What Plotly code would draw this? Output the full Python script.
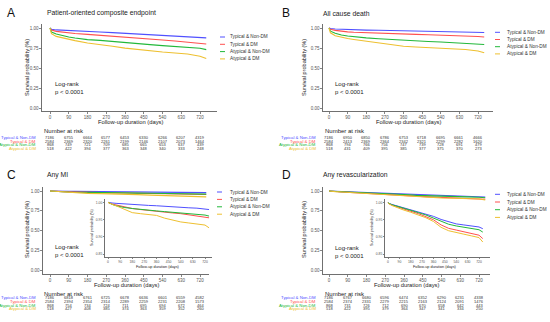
import plotly.graph_objects as go

W, H = 550, 322

groups = ["Typical & Non-DM", "Typical & DM", "Atypical & Non-DM", "Atypical & DM"]
colors = ["#5050FF", "#FF5050", "#22B83A", "#EEC030"]

days = [0, 7, 30, 60, 90, 120, 180, 240, 300, 360, 420, 480, 540, 600, 660, 720, 750]

# Panel A: Patient-oriented composite endpoint
A_typ_nondm = [1, 0.985, 0.976, 0.971, 0.967, 0.963, 0.957, 0.950, 0.942, 0.934, 0.926, 0.918, 0.910, 0.902, 0.894, 0.884, 0.876]
A_typ_dm = [1, 0.975, 0.958, 0.947, 0.938, 0.932, 0.920, 0.907, 0.893, 0.880, 0.870, 0.860, 0.850, 0.838, 0.826, 0.812, 0.800]
A_atyp_nondm = [1, 0.950, 0.925, 0.905, 0.888, 0.875, 0.855, 0.845, 0.830, 0.815, 0.803, 0.792, 0.780, 0.770, 0.760, 0.747, 0.730]
A_atyp_dm = [1, 0.930, 0.895, 0.875, 0.856, 0.842, 0.812, 0.795, 0.772, 0.748, 0.730, 0.715, 0.700, 0.688, 0.675, 0.648, 0.620]

# Panel B: All cause death
B_typ_nondm = [1, 0.993, 0.987, 0.983, 0.980, 0.978, 0.974, 0.971, 0.967, 0.964, 0.961, 0.958, 0.955, 0.952, 0.949, 0.946, 0.944]
B_typ_dm = [1, 0.985, 0.970, 0.958, 0.952, 0.947, 0.940, 0.934, 0.929, 0.925, 0.920, 0.916, 0.912, 0.906, 0.900, 0.894, 0.888]
B_atyp_nondm = [1, 0.960, 0.934, 0.912, 0.900, 0.890, 0.877, 0.866, 0.855, 0.846, 0.838, 0.831, 0.825, 0.817, 0.809, 0.800, 0.794]
B_atyp_dm = [1, 0.940, 0.904, 0.882, 0.868, 0.856, 0.833, 0.815, 0.793, 0.772, 0.762, 0.754, 0.746, 0.740, 0.732, 0.712, 0.690]

# Panel C: Any MI
C_typ_nondm = [1, 0.999, 0.998, 0.997, 0.996, 0.995, 0.993, 0.992, 0.991, 0.990, 0.988, 0.987, 0.986, 0.984, 0.983, 0.981, 0.979]
C_typ_dm = [1, 0.998, 0.995, 0.992, 0.989, 0.986, 0.982, 0.979, 0.976, 0.974, 0.971, 0.969, 0.967, 0.964, 0.961, 0.958, 0.955]
C_atyp_nondm = [1, 0.998, 0.994, 0.990, 0.987, 0.985, 0.982, 0.979, 0.977, 0.975, 0.973, 0.971, 0.970, 0.968, 0.966, 0.963, 0.960]
C_atyp_dm = [1, 0.998, 0.994, 0.990, 0.985, 0.978, 0.970, 0.967, 0.965, 0.962, 0.954, 0.948, 0.943, 0.940, 0.937, 0.934, 0.926]

# Panel D: Any revascularization
D_typ_nondm = [1, 0.998, 0.995, 0.992, 0.989, 0.986, 0.980, 0.974, 0.968, 0.960, 0.951, 0.944, 0.938, 0.935, 0.932, 0.929, 0.924]
D_typ_dm = [1, 0.997, 0.993, 0.989, 0.985, 0.982, 0.975, 0.968, 0.960, 0.950, 0.935, 0.925, 0.920, 0.915, 0.910, 0.905, 0.895]
D_atyp_nondm = [1, 0.998, 0.994, 0.991, 0.988, 0.985, 0.978, 0.971, 0.964, 0.955, 0.944, 0.937, 0.932, 0.928, 0.925, 0.921, 0.914]
D_atyp_dm = [1, 0.997, 0.992, 0.987, 0.982, 0.979, 0.972, 0.965, 0.956, 0.945, 0.928, 0.918, 0.912, 0.908, 0.903, 0.898, 0.885]

risk_days = [0, 90, 180, 270, 360, 450, 540, 630, 720]
A_risk = [
    [7186, 6755, 6664, 6577, 6453, 6330, 6266, 6207, 4319],
    [2584, 2369, 2320, 2261, 2199, 2146, 2107, 2073, 1464],
    [868, 749, 721, 709, 685, 665, 653, 637, 439],
    [518, 422, 394, 377, 363, 348, 340, 333, 248],
]
B_risk = [
    [7186, 6950, 6850, 6786, 6753, 6718, 6695, 6661, 4666],
    [2584, 2413, 2369, 2364, 2342, 2321, 2299, 2282, 1620],
    [868, 794, 766, 756, 747, 739, 728, 691, 479],
    [518, 431, 409, 395, 385, 377, 375, 370, 273],
]
C_risk = [
    [7186, 6818, 6761, 6725, 6678, 6636, 6601, 6559, 4582],
    [2584, 2394, 2354, 2314, 2289, 2259, 2231, 2208, 1573],
    [868, 754, 734, 724, 711, 695, 694, 672, 464],
    [518, 427, 408, 385, 374, 363, 359, 352, 260],
]
D_risk = [
    [7186, 6767, 6680, 6596, 6474, 6352, 6290, 6231, 4338],
    [2584, 2374, 2331, 2279, 2215, 2163, 2124, 2091, 1476],
    [868, 731, 726, 712, 690, 670, 658, 642, 443],
    [518, 422, 395, 379, 364, 347, 341, 334, 250],
]

titles = ["Patient-oriented composite endpoint", "All cause death", "Any MI", "Any revascularization"]
letters = ["A", "B", "C", "D"]
main_y_ticks = [0, 0.25, 0.5, 0.75, 1.0]
inset_y_ticks = [0.85, 0.90, 0.95, 1.00]
x_ticks = [0, 90, 180, 270, 360, 450, 540, 630, 720]

FONT = "Arial, Liberation Sans, sans-serif"
AX = "#333333"
TICK = "#555555"


def xcfg(p0, p1, lo, hi, v0=0, v1=720):
    s = (v1 - v0) / (p1 - p0)
    return dict(domain=[lo / W, hi / W], range=[v0 + (lo - p0) * s, v0 + (hi - p0) * s])


def ycfg(ptop, pbot, vtop, vbot, top, bottom):
    s = (vtop - vbot) / (pbot - ptop)
    return dict(domain=[1 - bottom / H, 1 - top / H],
                range=[vbot - (bottom - pbot) * s, vtop + (ptop - top) * s])


common_x = dict(showline=True, linecolor=AX, linewidth=0.7, ticks="outside", ticklen=2,
                tickwidth=0.6, tickcolor=AX, showgrid=False, zeroline=False,
                tickfont=dict(size=4.5, color=TICK, family=FONT), tickvals=x_ticks,
                ticktext=[str(v) for v in x_ticks])
common_y = dict(showline=True, linecolor=AX, linewidth=0.7, ticks="outside", ticklen=2,
                tickwidth=0.6, tickcolor=AX, showgrid=False, zeroline=False,
                tickfont=dict(size=4.5, color=TICK, family=FONT))

# panel geometry (pixels)
panels = [
    dict(x=xcfg(50, 200, 42, 217), y=ycfg(28, 108, 1.0, 0.0, 24, 111)),
    dict(x=xcfg(329, 478, 323, 493), y=ycfg(28, 108, 1.0, 0.0, 24, 111)),
    dict(x=xcfg(50, 200, 43, 209), y=ycfg(191, 270, 1.0, 0.0, 187, 274)),
    dict(x=xcfg(329, 479, 323, 490), y=ycfg(191, 270, 1.0, 0.0, 187, 274)),
]
insets = [
    dict(x=xcfg(108, 205, 105, 212), y=ycfg(202.3, 254, 1.0, 0.85, 199, 257)),
    dict(x=xcfg(388, 479, 385, 490), y=ycfg(202.7, 254, 1.0, 0.85, 199, 257)),
]

series = [
    [A_typ_nondm, A_typ_dm, A_atyp_nondm, A_atyp_dm],
    [B_typ_nondm, B_typ_dm, B_atyp_nondm, B_atyp_dm],
    [C_typ_nondm, C_typ_dm, C_atyp_nondm, C_atyp_dm],
    [D_typ_nondm, D_typ_dm, D_atyp_nondm, D_atyp_dm],
]
risks = [A_risk, B_risk, C_risk, D_risk]

fig = go.Figure()
layout = dict(width=W, height=H, autosize=False, margin=dict(l=0, r=0, t=0, b=0),
              paper_bgcolor="white", plot_bgcolor="rgba(0,0,0,0)", showlegend=False,
              font=dict(family=FONT))

for i in range(4):
    sx = "" if i == 0 else str(i + 1)
    xa = dict(common_x, **panels[i]["x"])
    ya = dict(common_y, **panels[i]["y"], tickvals=main_y_ticks,
              ticktext=["%.2f" % v for v in main_y_ticks])
    xa["anchor"] = "y" + sx
    ya["anchor"] = "x" + sx
    layout["xaxis" + sx] = xa
    layout["yaxis" + sx] = ya
    for g in range(4):
        fig.add_trace(go.Scatter(x=days, y=series[i][g], mode="lines",
                                 line=dict(color=colors[g], width=1.1),
                                 xaxis="x" + sx, yaxis="y" + sx, hoverinfo="skip"))

# insets for C and D
for k, pi in enumerate([2, 3]):
    n = str(5 + k)
    xa = dict(common_x, **insets[k]["x"])
    xa["tickfont"] = dict(size=3.4, color=TICK, family=FONT)
    xa["ticklen"] = 1.2
    ya = dict(common_y, **insets[k]["y"], tickvals=inset_y_ticks,
              ticktext=["%.2f" % v for v in inset_y_ticks])
    ya["tickfont"] = dict(size=3.4, color=TICK, family=FONT)
    ya["ticklen"] = 1.2
    xa["anchor"] = "y" + n
    ya["anchor"] = "x" + n
    layout["xaxis" + n] = xa
    layout["yaxis" + n] = ya
    for g in range(4):
        fig.add_trace(go.Scatter(x=days, y=series[pi][g], mode="lines",
                                 line=dict(color=colors[g], width=1.0),
                                 xaxis="x" + n, yaxis="y" + n, hoverinfo="skip"))

annotations = []
shapes = []


def ann(x, y, text, size, color="#222222", xanchor="left", yanchor="middle", angle=0):
    annotations.append(dict(x=x / W, y=1 - y / H, xref="paper", yref="paper", text=text,
                            showarrow=False, xanchor=xanchor, yanchor=yanchor, textangle=angle,
                            font=dict(size=size, color=color, family=FONT)))


# text geometry per panel
geo = [
    dict(letter=(5, 13), title=(45, 13), ytitle=(27, 68), xtitle=(130, 122),
         logrank=(53, 84), nar=(42, 131), rows=[137.5, 141.2, 144.9, 148.6], label_r=38,
         leg_x=(220, 225, 228), leg_y=[37, 44.3, 51.6, 58.9]),
    dict(letter=(280, 13), title=(321, 13), ytitle=(304, 68), xtitle=(408, 122),
         logrank=(333, 84), nar=(323, 131), rows=[137.5, 141.2, 144.9, 148.6], label_r=318,
         leg_x=(495, 500, 505), leg_y=[32.3, 39.5, 46.7, 53.9]),
    dict(letter=(5, 175), title=(45, 175), ytitle=(27, 230), xtitle=(126, 285),
         logrank=(53, 247), nar=(42, 294), rows=[297.5, 301.3, 305.1, 308.9], label_r=38,
         leg_x=(217, 222, 228), leg_y=[192, 199.4, 206.8, 214.2]),
    dict(letter=(280, 175), title=(321, 175), ytitle=(304, 230), xtitle=(406, 285),
         logrank=(333, 248), nar=(323, 294), rows=[297.5, 301.3, 305.1, 308.9], label_r=318,
         leg_x=(495, 500, 505), leg_y=[194.3, 202, 209.7, 217.4]),
]

for i in range(4):
    gm = geo[i]
    xref = "x" if i == 0 else "x" + str(i + 1)
    ann(gm["letter"][0], gm["letter"][1], letters[i], 12, "#111111")
    ann(gm["title"][0], gm["title"][1], titles[i], 6.8, "#222222")
    ann(gm["ytitle"][0], gm["ytitle"][1], "Survival probability (%)", 5.6, "#222222",
        xanchor="center", angle=-90)
    ann(gm["xtitle"][0], gm["xtitle"][1], "Follow-up duration (days)", 5.8, "#222222",
        xanchor="center")
    ann(gm["logrank"][0], gm["logrank"][1], "Log-rank", 6.0, "#222222")
    ann(gm["logrank"][0], gm["logrank"][1] + 8, "p < 0.0001", 6.0, "#222222")
    ann(gm["nar"][0], gm["nar"][1], "Number at risk", 6.0, "#222222")
    for g in range(4):
        ry = gm["rows"][g]
        ann(gm["label_r"], ry, groups[g], 4.3, colors[g], xanchor="right")
        for j, d in enumerate(risk_days):
            annotations.append(dict(x=d, y=1 - ry / H, xref=xref, yref="paper",
                                    text=str(risks[i][g][j]), showarrow=False,
                                    xanchor="center", yanchor="middle",
                                    font=dict(size=4.0, color="#333333", family=FONT)))
        lx0, lx1, tx = gm["leg_x"]
        ly = gm["leg_y"][g]
        shapes.append(dict(type="line", xref="paper", yref="paper", x0=lx0 / W, x1=lx1 / W,
                           y0=1 - ly / H, y1=1 - ly / H, line=dict(color=colors[g], width=1)))
        ann(tx, ly, groups[g], 4.7, "#333333")

# inset axis titles
ann(92, 228, "Survival probability (%)", 3.6, "#222222", xanchor="center", angle=-90)
ann(158, 266.5, "Follow-up duration (days)", 3.8, "#222222", xanchor="center")
ann(372, 228, "Survival probability (%)", 3.6, "#222222", xanchor="center", angle=-90)
ann(435, 266.5, "Follow-up duration (days)", 3.8, "#222222", xanchor="center")

layout["annotations"] = annotations
layout["shapes"] = shapes
fig.update_layout(**layout)
fig.write_html("out.html", config={"displayModeBar": False, "staticPlot": True},
               post_script="document.body.style.margin='0';document.body.style.overflow='hidden';")
